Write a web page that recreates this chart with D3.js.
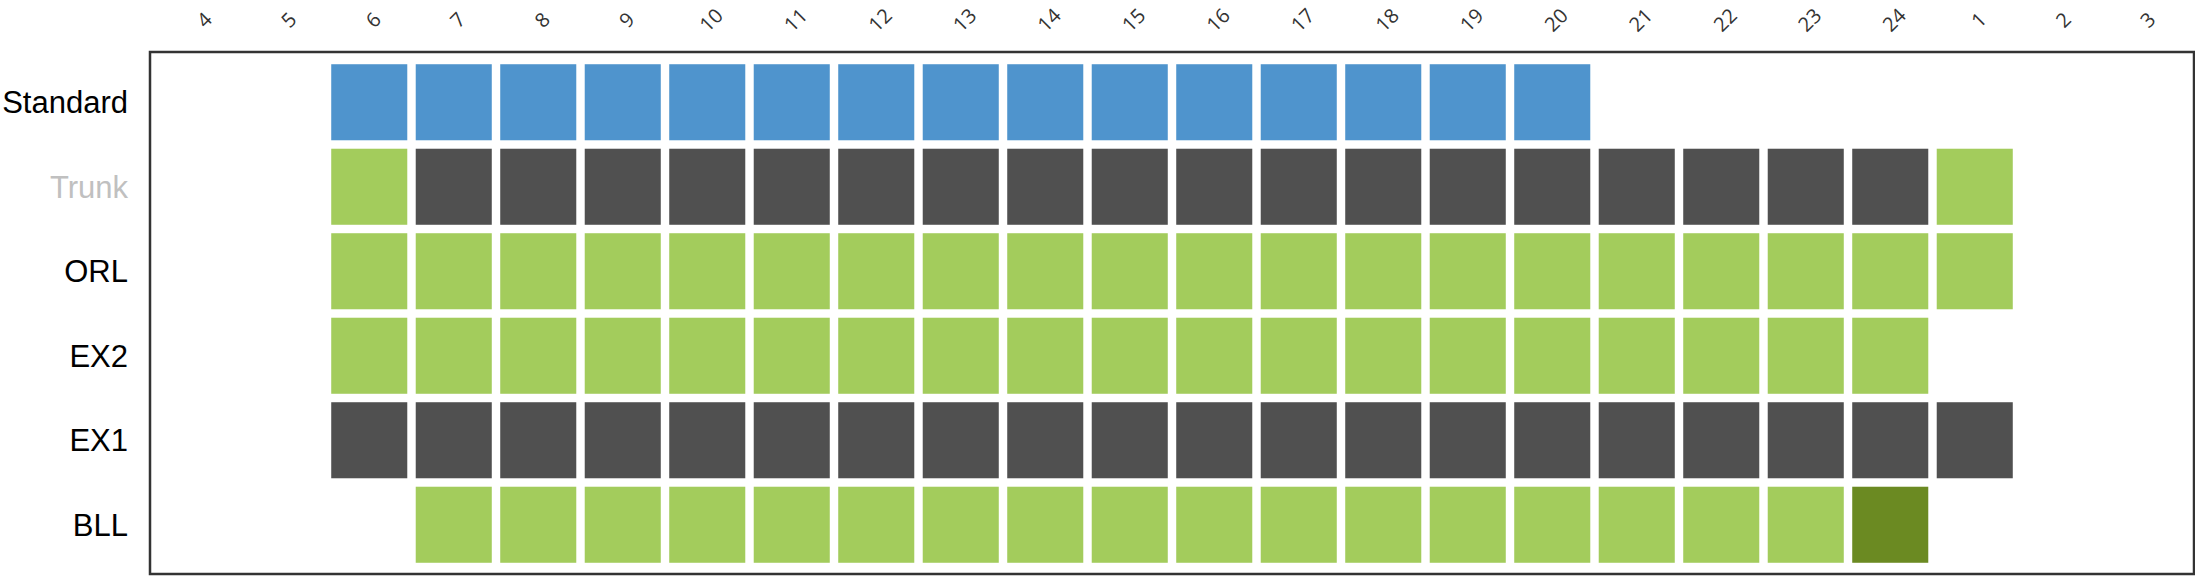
<!DOCTYPE html>
<html>
<head>
<meta charset="utf-8">
<script src="https://cdn.jsdelivr.net/npm/d3@7"></script>
<style>
  html, body { margin: 0; padding: 0; background: #ffffff; }
  svg { display: block; }
</style>
</head>
<body>
<svg id="chart" width="2195" height="576"></svg>
<script>
// ---- data ----
const hours = ["4","5","6","7","8","9","10","11","12","13","14","15","16","17","18","19","20","21","22","23","24","1","2","3"];
const rowNames = ["Standard","Trunk","ORL","EX2","EX1","BLL"];
// status codes per hour column: "" none, "S" standard (blue), "O" open (green), "C" closed (dark), "H" highlight (olive)
const standardRow = ["","","S","S","S","S","S","S","S","S","S","S","S","S","S","S","S","","","","","","",""];
const trunkRow    = ["","","O","C","C","C","C","C","C","C","C","C","C","C","C","C","C","C","C","C","C","O","",""];
const orlRow      = ["","","O","O","O","O","O","O","O","O","O","O","O","O","O","O","O","O","O","O","O","O","",""];
const ex2Row      = ["","","O","O","O","O","O","O","O","O","O","O","O","O","O","O","O","O","O","O","O","","",""];
const ex1Row      = ["","","C","C","C","C","C","C","C","C","C","C","C","C","C","C","C","C","C","C","C","C","",""];
const bllRow      = ["","","","O","O","O","O","O","O","O","O","O","O","O","O","O","O","O","O","O","H","","",""];
const rowValues = [standardRow, trunkRow, orlRow, ex2Row, ex1Row, bllRow];
const labelColors = ["#000000","#c0c0c0","#000000","#000000","#000000","#000000"];

// ---- build cells ----
const cells = [];
rowNames.forEach((r, i) => {
  rowValues[i].forEach((v, j) => {
    if (v) cells.push({ row: r, hour: hours[j], status: v });
  });
});

const colors = { S: "#4f94cd", O: "#a3cc5c", C: "#505050", H: "#6b8a22" };

const svg = d3.select("#chart");

const x = d3.scaleBand().domain(hours).range([158, 2186]).paddingInner(0.1).paddingOuter(0.05);
const y = d3.scaleBand().domain(rowNames).range([60, 567]).paddingInner(0.1).paddingOuter(0.05);

// cells
svg.append("g").selectAll("rect")
  .data(cells)
  .enter().append("rect")
  .attr("x", d => x(d.hour))
  .attr("y", d => y(d.row))
  .attr("width", x.bandwidth())
  .attr("height", y.bandwidth())
  .attr("fill", d => colors[d.status]);

// frame
svg.append("rect")
  .attr("x", 150).attr("y", 52)
  .attr("width", 2044).attr("height", 522)
  .attr("fill", "none")
  .attr("stroke", "#333333")
  .attr("stroke-width", 2.5);

// top axis labels (rotated)
const xAxis = svg.append("g");
xAxis.selectAll("text")
  .data(hours)
  .enter().append("text")
  .attr("transform", d => `translate(${x(d) + x.bandwidth() / 2 + 4},${20}) rotate(-45)`)
  .attr("text-anchor", "middle")
  .attr("dy", "0.35em")
  .attr("font-family", "'Open Sans', 'DejaVu Sans', sans-serif")
  .attr("font-size", 20)
  .attr("fill", "#333333")
  .text(d => d);

// left labels
const yAxis = svg.append("g");
yAxis.selectAll("text")
  .data(rowNames)
  .enter().append("text")
  .attr("x", 128)
  .attr("y", d => y(d) + y.bandwidth() / 2)
  .attr("dy", "0.36em")
  .attr("text-anchor", "end")
  .attr("font-family", "'Liberation Sans', Arial, sans-serif")
  .attr("font-size", 31)
  .attr("fill", (d, i) => labelColors[i])
  .text(d => d);
</script>
</body>
</html>
